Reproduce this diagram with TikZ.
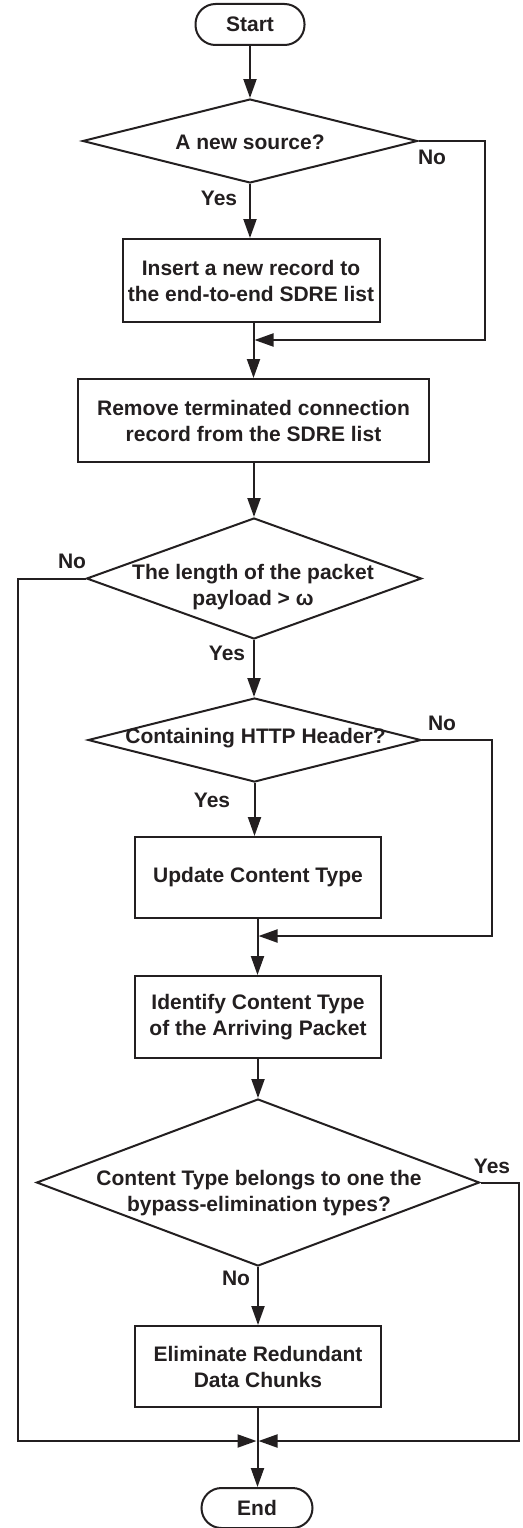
\documentclass[tikz,border=0pt]{standalone}
\usepackage{fontspec}
\setmainfont{Liberation Sans}
\usetikzlibrary{arrows.meta,shapes.geometric}
\definecolor{ink}{RGB}{35,31,32}
\newcommand\flowfont{\bfseries\fontsize{21}{26}\selectfont}
\begin{document}
\begin{tikzpicture}[x=1pt,y=-1pt,
  base/.style={draw=ink,line width=2pt},
  proc/.style={base,rectangle,inner sep=0pt,align=center,font=\flowfont,text=ink},
  term/.style={base,rectangle,rounded corners=20pt,inner sep=0pt,font=\flowfont,text=ink},
  dec/.style={base,diamond,inner sep=0pt},
  txt/.style={align=center,font=\flowfont,text=ink,inner sep=0pt},
  lbl/.style={font=\flowfont,text=ink,inner sep=0pt},
  flow/.style={draw=ink,line width=2pt,-{Triangle[length=19pt,width=13pt]}},
  link/.style={draw=ink,line width=2pt}]
\useasboundingbox[fill=white] (0,0) rectangle (522,1528);

% terminals
\node[term,minimum width=109pt,minimum height=41pt] (start) at (250,24.5) {Start};
\node[term,minimum width=111pt,minimum height=40pt] (end) at (257,1508) {End};

% decisions
\node[dec,minimum width=335pt,minimum height=84pt] (d1) at (250,141) {};
\node[txt] (d1t) at (250,142) {A new source?};
\node[dec,minimum width=335pt,minimum height=121pt] (d2) at (254,578.5) {};
\node[txt] (d2t) at (253,587) {The length of the packet\\payload > ω};
\node[dec,minimum width=333pt,minimum height=84pt] (d3) at (254.5,740) {};
\node[txt] (d3t) at (255.5,738) {Containing HTTP Header?};
\node[dec,minimum width=443pt,minimum height=167pt] (d4) at (258,1182.5) {};
\node[txt] (d4t) at (259,1193.5) {Content Type belongs to one the\\bypass-elimination types?};

% processes
\node[proc,minimum width=257pt,minimum height=83pt] (b1) at (251,280.5) {Insert a new record to\\the end-to-end SDRE list};
\node[proc,minimum width=351pt,minimum height=83pt] (b2) at (253.5,420.5) {Remove terminated connection\\record from the SDRE list};
\node[proc,minimum width=246pt,minimum height=81pt] (b3) at (258,877.5) {Update Content Type};
\node[proc,minimum width=246pt,minimum height=82pt] (b4) at (258,1017) {Identify Content Type\\of the Arriving Packet};
\node[proc,minimum width=246pt,minimum height=81pt] (b5) at (258,1366.5) {Eliminate Redundant\\Data Chunks};

% junctions
\coordinate (j1) at (253.5,340);
\coordinate (j2) at (257.5,936);
\coordinate (j3) at (257.5,1441);

% connectors
\draw[flow] (start.south -| d1.north) -- (d1.north);
\draw[flow] (d1.south) -- (d1.south |- b1.north);
\draw[flow,shorten >=1pt] (d1.east) -- ++(66,0) |- (j1);
\draw[link] (b1.south -| j1) -- (j1);
\draw[flow] (j1) -- (b2.north -| j1);
\draw[flow] (b2.south -| d2.north) -- (d2.north);
\draw[flow,shorten >=1pt] (d2.west) -- ++(-68,0) |- (j3);
\draw[flow] (d2.south) -- (d2.south |- d3.north);
\draw[flow,shorten >=1pt] (d3.east) -- ++(69.5,0) |- (j2);
\draw[flow] (d3.south) -- (d3.south |- b3.north);
\draw[link] (b3.south -| j2) -- (j2);
\draw[flow] (j2) -- (b4.north -| j2);
\draw[flow] (b4.south) -- (d4.north);
\draw[flow,shorten >=1pt] (d4.east) -- ++(38.5,0) |- (j3);
\draw[flow] (d4.south) -- (b5.north);
\draw[link] (b5.south -| j3) -- (j3);
\draw[flow] (j3) -- (end.north -| j3);

% branch labels
\node[lbl] (n1) at (432,157) {No};
\node[lbl] (y1) at (219,198) {Yes};
\node[lbl] (n2) at (72,561) {No};
\node[lbl] (y2) at (227,653) {Yes};
\node[lbl] (n3) at (442,723) {No};
\node[lbl] (y3) at (212,800) {Yes};
\node[lbl] (y4) at (492,1166) {Yes};
\node[lbl] (n4) at (236,1278) {No};
\end{tikzpicture}
\end{document}
